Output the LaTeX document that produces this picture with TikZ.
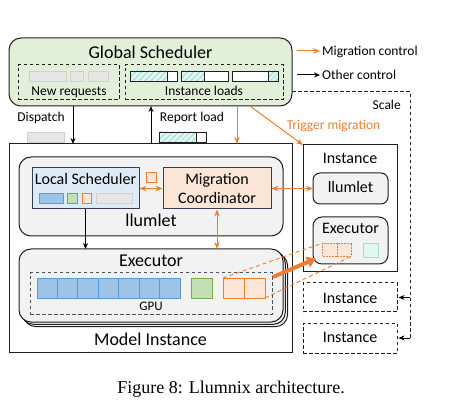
\documentclass[tikz,border=0pt]{standalone}
\usepackage{fontspec}
\setmainfont{Carlito}
\newfontfamily\capfont{Liberation Serif}
\usetikzlibrary{arrows.meta,patterns.meta,calc}
\definecolor{ora}{HTML}{ED7D31}
\definecolor{oraf}{HTML}{FBE5D6}
\definecolor{gsf}{HTML}{E2F0D9}
\definecolor{lsf}{HTML}{DEEBF7}
\definecolor{bluef}{HTML}{9DC3E6}
\definecolor{blued}{HTML}{5B9BD5}
\definecolor{greenf}{HTML}{C5E0B4}
\definecolor{greend}{HTML}{70AD47}
\definecolor{grayf}{HTML}{E7E6E6}
\definecolor{grayd}{HTML}{D0CECE}
\definecolor{llf}{HTML}{F2F2F2}
\definecolor{dk}{HTML}{1F1F1F}
\definecolor{navy}{HTML}{44546A}
\definecolor{tealf}{HTML}{E3F7F2}
\definecolor{teald}{HTML}{A9DCCF}
\definecolor{hatchc}{HTML}{9FDAD5}
\definecolor{lsd}{HTML}{333F50}
\tikzset{
  fbig/.style={font=\fontsize{18}{20}\selectfont},
  fmid/.style={font=\fontsize{16}{18}\selectfont},
  fsml/.style={font=\fontsize{13.5}{15}\selectfont},
  bx/.style={draw=dk, line width=1pt, inner sep=0pt, outer sep=0pt},
  cell/.style={inner sep=0pt, outer sep=0pt, line width=0.8pt},
  dbox/.style={draw=dk, dashed, dash pattern=on 3.5pt off 2.5pt, line width=1pt, inner sep=0pt},
  blk/.style={draw=black, line width=1pt, -{Stealth[length=6pt,width=5pt]}},
  oar/.style={draw=ora, line width=1pt, -{Stealth[length=7pt,width=5.5pt]}},
  oar2/.style={draw=ora, line width=1pt, {Stealth[length=7pt,width=5.5pt]}-{Stealth[length=7pt,width=5.5pt]}},
  hatched/.style={cell, draw=dk, preaction={fill=tealf}, pattern={Lines[angle=45,distance=4pt,line width=1.3pt]}, pattern color=hatchc},
  plain/.style={cell, draw=dk, fill=white},
  grayc/.style={cell, draw=grayd, fill=grayf},
}
\begin{document}
\begin{tikzpicture}[x=1pt,y=-1pt]
\useasboundingbox (0,0) rectangle (460,419);
% Global scheduler
\node[bx, fill=gsf, rounded corners=12pt, minimum width=283pt, minimum height=68pt] (gs) at (150.5,72) {};
\node[fbig, anchor=base] (gst) at (150.5,58.5) {Global Scheduler};
\node[dbox, minimum width=101pt, minimum height=35pt] (nr) at (68.5,82.5) {};
\node[dbox, minimum width=158pt, minimum height=35pt] (il) at (204,82.5) {};
\node[grayc, minimum width=37pt, minimum height=10pt] (g1) at (47.5,76) {};
\node[grayc, minimum width=13pt, minimum height=10pt] (g2) at (76.5,76) {};
\node[grayc, minimum width=20pt, minimum height=10pt] (g3) at (98,76) {};
\node[fsml, anchor=base] (nrt) at (69,95.5) {New requests};
\node[hatched, minimum width=37pt, minimum height=10pt] (b1a) at (148.5,76) {};
\node[plain, minimum width=10pt, minimum height=10pt] (b1b) at (172,76) {};
\node[hatched, minimum width=23pt, minimum height=10pt] (b2a) at (192.5,76) {};
\node[plain, minimum width=24pt, minimum height=10pt] (b2b) at (216,76) {};
\node[plain, minimum width=36pt, minimum height=10pt] (b3a) at (250,76) {};
\node[hatched, minimum width=10pt, minimum height=10pt] (b3b) at (273,76) {};
\node[fsml, anchor=base] (ilt) at (204,95.5) {Instance loads};
% legend
\coordinate (la1) at (297,51); \coordinate (la2) at (320,51);
\draw[oar] (la1) -- (la2);
\node[fsml, anchor=base west, inner sep=0pt] (lt1) at (322,55.5) {Migration control};
\coordinate (lb1) at (297,75); \coordinate (lb2) at (320,75);
\draw[blk] (lb1) -- (lb2);
\node[fsml, anchor=base west, inner sep=0pt] (lt2) at (322,79.5) {Other control};
% Model instance
\node[bx, minimum width=283pt, minimum height=208pt] (mi) at (150.5,248) {};
\node[fbig, anchor=base] (mit) at (150.5,345) {Model Instance};
% dispatch / report
\node[fsml, anchor=base] (dt) at (41,122) {Dispatch};
\node[grayc, minimum width=37pt, minimum height=10pt] (dg) at (45.5,137) {};
\node[fsml, anchor=base] (rt) at (192,122) {Report load};
\node[hatched, minimum width=37pt, minimum height=10pt] (rba) at (177.5,137) {};
\node[plain, minimum width=10pt, minimum height=10pt] (rbb) at (201,137) {};
\coordinate (dx) at (73,0); \coordinate (rx) at (151,0); \coordinate (ox) at (237,0); \coordinate (tx) at (250,0);
\draw[blk] (dx |- gs.south) -- (dx |- mi.north);
\draw[blk] (rx |- mi.north) -- (rx |- gs.south);
\draw[oar] (ox |- gs.south) -- (ox |- mi.north);
% llumlet
\node[bx, fill=llf, rounded corners=12pt, minimum width=264pt, minimum height=79pt] (ll) at (151,196.5) {};
\node[fbig, anchor=base] (llt) at (151,227) {llumlet};
\node[draw=lsd, line width=1pt, fill=lsf, inner sep=0pt, minimum width=107pt, minimum height=41pt] (ls) at (85.5,188.5) {};
\node[fmid, anchor=base] (lst) at (85.5,185) {Local Scheduler};
\node[cell, draw=blued, fill=bluef, minimum width=24pt, minimum height=10pt] (s1) at (51,198) {};
\node[cell, draw=greend, fill=greenf, minimum width=10pt, minimum height=10pt] (s2) at (72,198) {};
\node[cell, draw=ora, fill=oraf, minimum width=9pt, minimum height=10pt] (s3) at (86.5,198) {};
\node[grayc, minimum width=36pt, minimum height=10pt] (s4) at (114,198) {};
\node[draw=lsd, line width=1pt, fill=oraf, inner sep=0pt, minimum width=108pt, minimum height=41pt] (mc) at (217,188.5) {};
\node[fmid, anchor=base] (mct1) at (217,184.3) {Migration};
\node[fmid, anchor=base] (mct2) at (217,204) {Coordinator};
\node[cell, draw=ora, fill=oraf, minimum width=9.5pt, minimum height=10pt] (sq) at (151.5,177) {};
\draw[oar2] (ls.east) -- (mc.west);
% executor stack
\node[bx, fill=llf, rounded corners=12pt, minimum width=264pt, minimum height=73pt] (ex3) at (155.6,290.1) {};
\node[bx, fill=llf, rounded corners=12pt, minimum width=264pt, minimum height=73pt] (ex2) at (153.3,287.8) {};
\node[bx, fill=llf, rounded corners=12pt, minimum width=264pt, minimum height=73pt] (ex) at (151,285.5) {};
\node[fbig, anchor=base] (ext) at (151,267) {Executor};
\node[draw=navy, dashed, dash pattern=on 3.5pt off 2.5pt, line width=1pt, inner sep=0pt, minimum width=242pt, minimum height=41pt] (gpu) at (151,293.5) {};
\node[font=\fontsize{13}{14}\selectfont, anchor=base] (gput) at (151,310) {GPU};
\foreach \i in {0,...,6} {
  \node[cell, draw=blued, fill=bluef, minimum width=20.43pt, minimum height=20pt] (bc\i) at ({47.2+20.43*\i},288) {};
}
\node[cell, draw=greend, fill=greenf, minimum width=21pt, minimum height=20pt] (gc) at (201.5,288) {};
\node[cell, draw=ora, fill=oraf, minimum width=21pt, minimum height=20pt] (oc1) at (233.5,288) {};
\node[cell, draw=ora, fill=oraf, minimum width=21pt, minimum height=20pt] (oc2) at (254.5,288) {};
\draw[blk] (ls.south) -- (ls.south |- ex.north);
\draw[oar2] (mc.south) -- (mc.south |- ex.north);
% right instance
\node[bx, minimum width=94pt, minimum height=127pt] (ri) at (350,208.5) {};
\node[fmid, anchor=base] (rit) at (350,164) {Instance};
\node[bx, fill=llf, rounded corners=7pt, minimum width=75pt, minimum height=31pt] (sl) at (350.5,188.5) {};
\node[fmid, anchor=base] (slt) at (350.5,193) {llumlet};
\node[bx, fill=llf, rounded corners=9pt, minimum width=75pt, minimum height=47pt] (se) at (350.5,240.5) {};
\node[fmid, anchor=base] (set) at (350.5,234) {Executor};
\node[cell, draw=ora, dashed, dash pattern=on 2pt off 1pt, fill=oraf, minimum width=14.5pt, minimum height=13pt] (sc1) at (330,249.5) {};
\node[cell, draw=ora, dashed, dash pattern=on 2pt off 1pt, fill=oraf, minimum width=14.5pt, minimum height=13pt] (sc2) at (344.5,249.5) {};
\node[cell, draw=teald, fill=tealf, minimum width=15pt, minimum height=14pt] (tq) at (370.5,250) {};
\draw[oar2] (mc.east) -- (sl.west);
\draw[oar] (tx |- gs.south) -- (ri.north west);
\node[fsml, text=ora, anchor=base] (tmt) at (333.5,130) {Trigger migration};
% zoom lines and migration arrow
\draw[ora, dashed, dash pattern=on 4pt off 3pt, line width=0.9pt] (oc1.north west) -- (sc1.north west);
\draw[ora, dashed, dash pattern=on 4pt off 3pt, line width=0.9pt] (oc2.south east) -- (sc2.south east);
\coordinate (ta) at (273,277); \coordinate (tb) at (316,258.5);
\draw[ora, line width=4pt, -{Triangle[length=9pt,width=11pt]}] (ta) -- (tb);
% scaled instances
\node[dbox, minimum width=94pt, minimum height=29pt] (d1) at (350,297.5) {};
\node[fmid, anchor=base] (d1t) at (350,303.3) {Instance};
\node[dbox, minimum width=94pt, minimum height=30pt] (d2) at (350,338) {};
\node[fmid, anchor=base] (d2t) at (350,342.7) {Instance};
\coordinate (sy) at (0,92); \coordinate (sc) at (410,92);
\draw[dk, dashed, dash pattern=on 3.5pt off 2.5pt, line width=1pt] (sy -| gs.east) -- (sc) -- (sc |- d2.east);
\draw[blk] (sc |- d1.east) -- ([xshift=1pt]d1.east);
\draw[blk] (sc |- d2.east) -- ([xshift=1pt]d2.east);
\node[fsml, anchor=base east, inner sep=0pt] (sct) at (401,110) {Scale};
% caption
\node[font=\capfont\fontsize{18}{20}\selectfont, anchor=base] (cap) at (231,393) {Figure 8: Llumnix architecture.};
\end{tikzpicture}
\end{document}
